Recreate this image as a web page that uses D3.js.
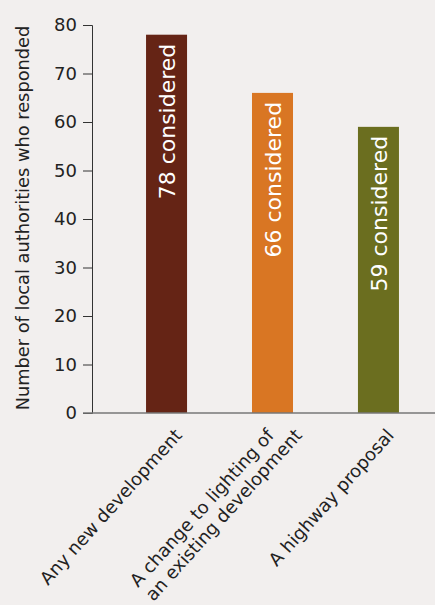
<!DOCTYPE html>
<html>
<head>
<meta charset="utf-8">
<script src="https://cdn.jsdelivr.net/npm/d3@7"></script>
<style>
  body { margin: 0; background: #f2efee; }
  text { font-family: "DejaVu Sans", sans-serif; }
</style>
</head>
<body>
<div id="chart"></div>
<script>
// data
var categories = ["Any new development", "A change to lighting of\nan existing development", "A highway proposal"];
var counts = [78, 66, 59];
var barColors = ["#652415", "#d97623", "#6b6e1f"];
var yTicks = [0, 10, 20, 30, 40, 50, 60, 70, 80];

var width = 435, height = 605;
var marginLeft = 92, plotTop = 25, plotBottom = 413;

var svg = d3.select("#chart")
  .append("svg")
  .attr("width", width)
  .attr("height", height)
  .style("background", "#f2efee");

var y = d3.scaleLinear().domain([0, 80]).range([plotBottom, plotTop]);
var x = d3.scaleBand()
  .domain(categories)
  .range([marginLeft, 453])
  .paddingInner(0.613)
  .paddingOuter(0.51);

// y axis
var yAxis = svg.append("g")
  .attr("transform", "translate(" + marginLeft + ",0)")
  .call(d3.axisLeft(y).tickValues(yTicks).tickSize(9).tickPadding(6));
yAxis.select(".domain").attr("stroke", "#333");
yAxis.selectAll(".tick line").attr("stroke", "#333");
yAxis.selectAll(".tick text")
  .attr("fill", "#222")
  .style("font-family", "DejaVu Sans")
  .style("font-size", "18px");

svg.append("text")
  .attr("transform", "translate(29,218) rotate(-90)")
  .attr("text-anchor", "middle")
  .attr("fill", "#222")
  .style("font-size", "17.8px")
  .text("Number of local authorities who responded");

// bars
svg.selectAll("rect.bar").data(counts)
  .enter().append("rect")
  .attr("class", "bar")
  .attr("x", function(d, i) { return x(categories[i]); })
  .attr("y", function(d) { return y(d); })
  .attr("width", x.bandwidth())
  .attr("height", function(d) { return plotBottom - y(d); })
  .style("fill", function(d, i) { return barColors[i]; });

// labels inside bars
svg.selectAll("text.inbar").data(counts)
  .enter().append("text")
  .attr("class", "inbar")
  .attr("transform", function(d, i) {
    return "translate(" + (x(categories[i]) + x.bandwidth() / 2 + 8.5) + "," + (y(d) + 9) + ") rotate(-90)";
  })
  .attr("text-anchor", "end")
  .attr("fill", "#fff")
  .style("font-size", "22px")
  .text(function(d) { return d + " considered"; });

// x axis line
svg.append("line")
  .attr("x1", marginLeft - 9).attr("x2", width)
  .attr("y1", plotBottom).attr("y2", plotBottom)
  .attr("stroke", "#777")
  .attr("stroke-width", 1.5);

// category labels, rotated
categories.forEach(function(c, i) {
  var lines = c.split("\n");
  var cx = x(c) + x.bandwidth() / 2 + 16.5;
  lines.forEach(function(line, j) {
    var off = (j - (lines.length - 1) / 2) * 28;
    svg.append("text")
      .attr("transform", "translate(" + (cx + off) + "," + (plotBottom + 23) + ") rotate(-48)")
      .attr("text-anchor", "end")
      .attr("fill", "#222")
      .style("font-size", "18px")
      .text(line);
  });
});
</script>
</body>
</html>
